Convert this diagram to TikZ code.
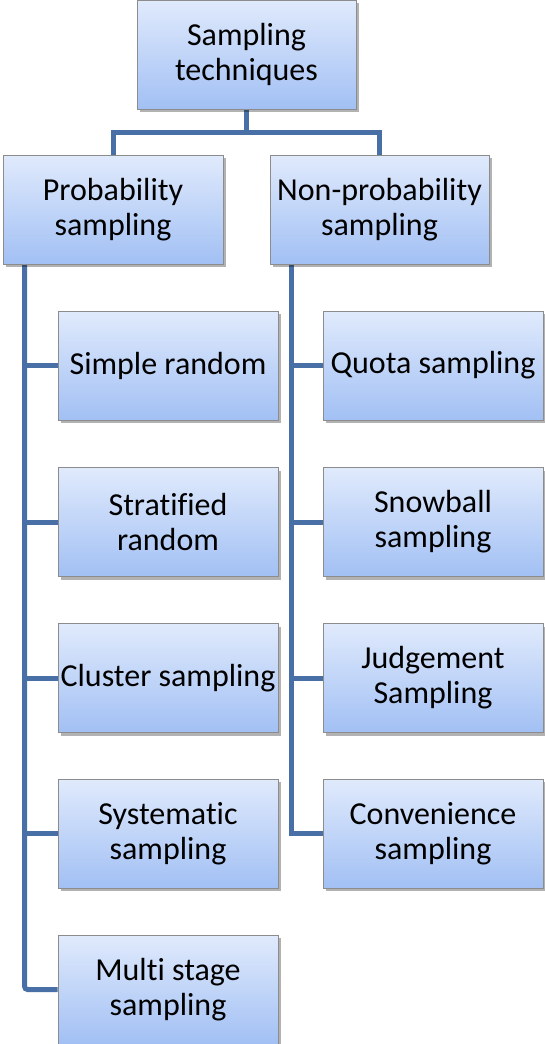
\documentclass[tikz,border=0pt]{standalone}
\usepackage{fontspec}
\setmainfont{Carlito}[Ligatures={NoCommon}]
\usetikzlibrary{shadows,backgrounds}
\definecolor{linkblue}{RGB}{72,112,166}
\definecolor{boxtop}{RGB}{224,234,252}
\definecolor{boxbot}{RGB}{162,192,244}
\definecolor{boxedge}{RGB}{140,140,140}
\tikzset{
  box/.style={rectangle, draw=boxedge, line width=0.8pt, top color=boxtop, bottom color=boxbot,
    align=center, inner sep=1pt, font=\fontsize{32}{35}\selectfont,
    general shadow={fill=black, opacity=0.3, shadow xshift=2.5pt, shadow yshift=-3pt}},
  tall/.style={box, minimum width=220pt, minimum height=109pt},
  link/.style={draw=linkblue, line width=5pt}
}
\begin{document}
\begin{tikzpicture}[x=1pt,y=-1pt]
\useasboundingbox (0,0) rectangle (544,1044);
\node[tall, minimum width=219pt] (root) at (246.5,54.5) {Sampling\\techniques};
\node[tall] (prob) at (113,209.5) {Probability\\sampling};
\node[tall, minimum width=219pt] (np) at (379.5,209.5) {Non-probability\\sampling};
\node[tall] (l1) at (168,365.5) {Simple random};
\node[tall] (l2) at (168,522) {Stratified\\random};
\node[tall] (l3) at (168,678) {Cluster sampling};
\node[tall] (l4) at (168,833.5) {Systematic\\sampling};
\node[tall] (l5) at (168,989.5) {Multi stage\\sampling};
\node[tall] (r1) at (433,365.5) {Quota sampling};
\node[tall] (r2) at (433,522) {Snowball\\sampling};
\node[tall] (r3) at (433,678) {Judgement\\Sampling};
\node[tall] (r4) at (433,833.5) {Convenience\\sampling};
\coordinate (hub) at ([yshift=-23pt]root.south);
\coordinate (ls) at ([xshift=22pt]prob.south west);
\coordinate (rs) at ([xshift=22pt]np.south west);
\begin{scope}[on background layer]
\draw[link] (root.south) -- (hub) -| (prob.north);
\draw[link] (root.south) -- (hub) -| (np.north);
\draw[link] (ls) |- (l1.west);
\draw[link] (ls) |- (l2.west);
\draw[link] (ls) |- (l3.west);
\draw[link] (ls) |- (l4.west);
\draw[link, rounded corners=3pt] (ls) |- (l5.west);
\draw[link] (rs) |- (r1.west);
\draw[link] (rs) |- (r2.west);
\draw[link] (rs) |- (r3.west);
\draw[link] (rs) |- (r4.west);
\end{scope}
\end{tikzpicture}
\end{document}
